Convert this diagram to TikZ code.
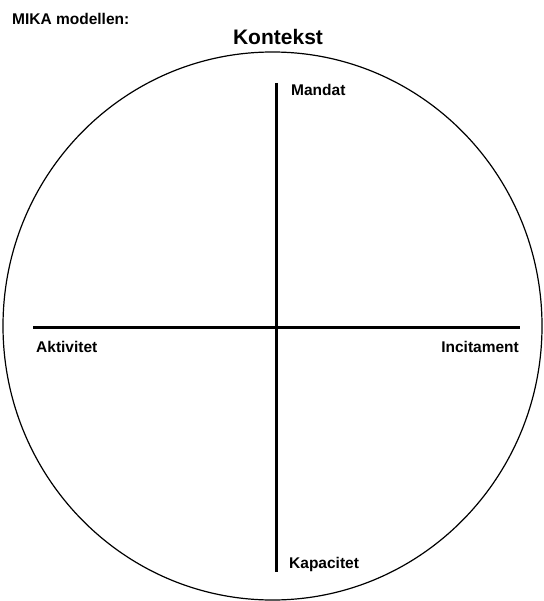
\documentclass[tikz,border=0pt]{standalone}
\usepackage{fontspec}
\setmainfont{Liberation Sans}
\usetikzlibrary{positioning}

\begin{document}
\begin{tikzpicture}[
x=1pt,y=-1pt,
lbl/.style={font=\fontsize{15.5}{18}\selectfont\bfseries,inner sep=0pt},
axis/.style={line width=3pt}]
\useasboundingbox (0,0) rectangle (543,601);
\draw[line width=1.2pt] (272.5,326) ellipse [x radius=269.5,y radius=274];
\coordinate (west) at (33,327);
\coordinate (east) at (520,327);
\coordinate (north) at (276,83);
\coordinate (south) at (276,572);
\draw[axis] (west) -- (east);
\draw[axis] (north) -- (south);
\node[lbl,anchor=base west] (title) at (12,25) {MIKA modellen:};
\node[lbl,anchor=base,font=\fontsize{21}{24}\selectfont\bfseries] (kontekst) at (278,45) {Kontekst};
\node[lbl,anchor=base west] (mandat) at (291,96) {Mandat};
\node[lbl,anchor=base west] (aktivitet) at (36,352) {Aktivitet};
\node[lbl,anchor=base east] (incitament) at (519,352) {Incitament};
\node[lbl,anchor=base west] (kapacitet) at (289,568) {Kapacitet};
\end{tikzpicture}
\end{document}
